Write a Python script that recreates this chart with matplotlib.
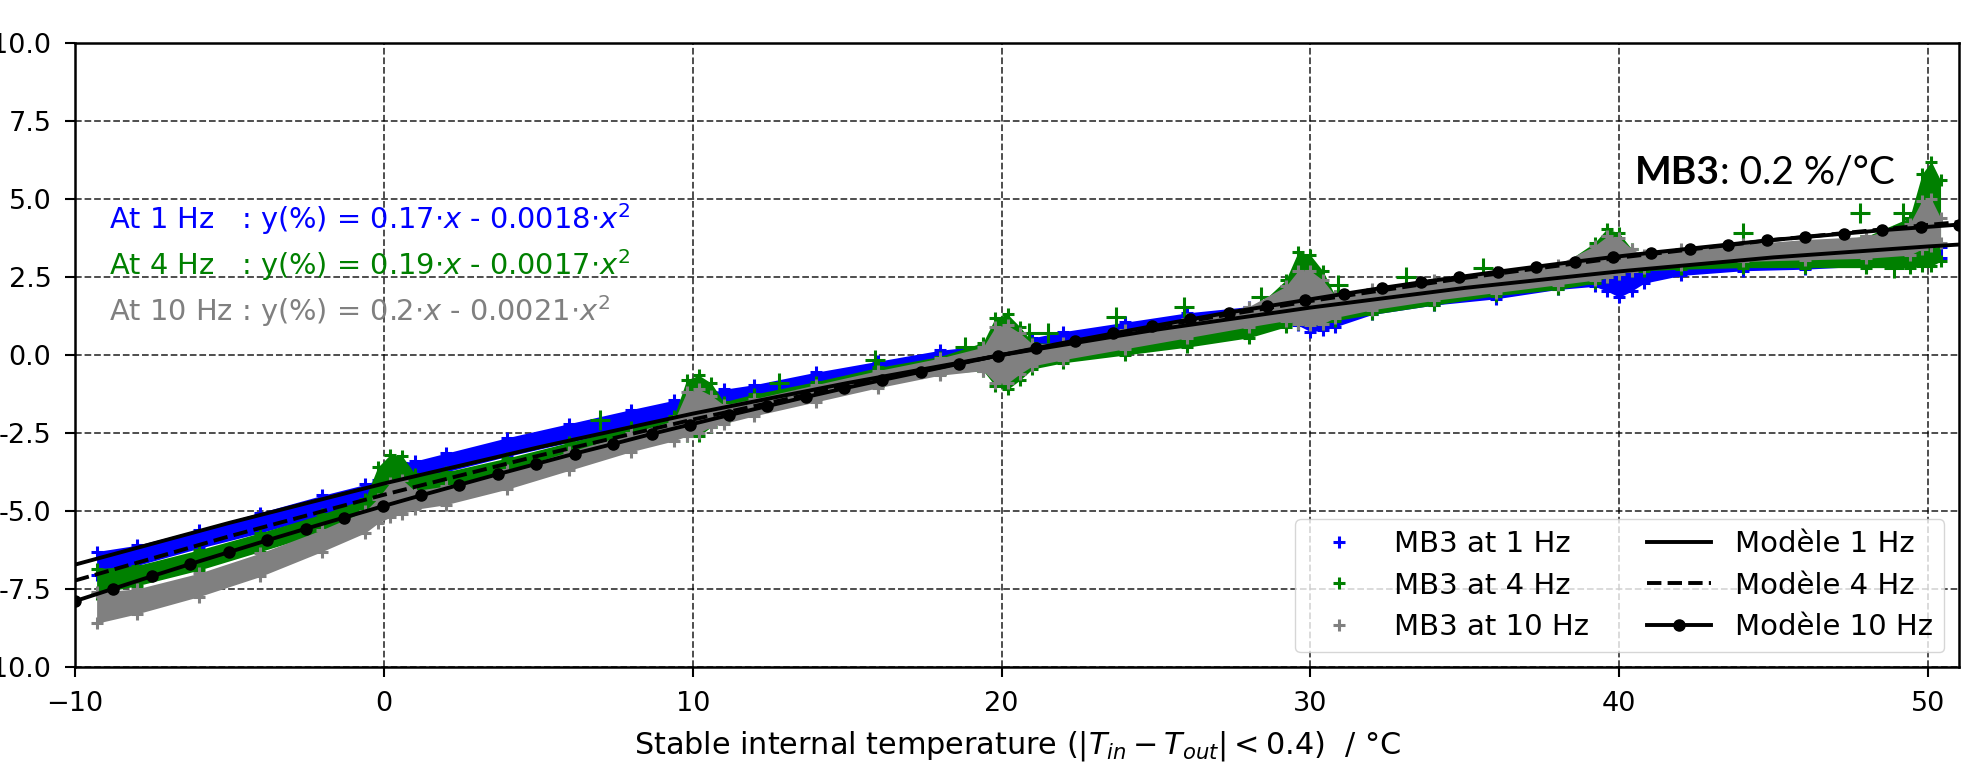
import numpy as np
import matplotlib
matplotlib.use("Agg")
from matplotlib import pyplot as plt

xs = [-9.3, -8, -6, -4, -2, -0.6, -0.2, 0.2, 0.6, 1.0, 2, 4, 6, 8, 9.4, 9.8, 10.2, 10.6, 11, 12,
      14, 16, 18, 19.4, 19.8, 20.2, 20.6, 21, 22, 24, 26, 28, 29.2, 29.6, 30.0, 30.4, 30.8, 32,
      34, 36, 38, 39.2, 39.6, 40.0, 40.4, 40.8, 42, 44, 46, 48, 49.4, 49.8, 50.1, 50.4]

lo_1hz = [-7.05, -6.75, -6.2, -5.7, -5.15, -4.8, -4.65, -4.3, -4.1, -4.0, -3.75, -3.25, -2.8, -2.35,
          -2.05, -2.0, -1.9, -1.8, -1.7, -1.5, -1.1, -0.75, -0.4, -0.2, -0.15, -0.1, 0.0, 0.05,
          0.25, 0.55, 0.85, 1.05, 1.1, 0.95, 0.75, 0.8, 0.9, 1.3, 1.6, 1.8, 2.1, 2.2, 2.05, 1.85,
          2.05, 2.3, 2.55, 2.7, 2.75, 2.85, 2.95, 3.0, 3.05, 3.1]
hi_1hz = [-6.3, -6.1, -5.6, -5.05, -4.5, -4.15, -4.0, -3.55, -3.45, -3.4, -3.15, -2.65, -2.2, -1.75,
          -1.45, -1.4, -1.3, -1.2, -1.1, -0.95, -0.55, -0.2, 0.15, 0.3, 0.35, 0.4, 0.5, 0.55,
          0.75, 1.05, 1.35, 1.55, 1.6, 1.6, 1.5, 1.5, 1.55, 1.85, 2.1, 2.3, 2.55, 2.65, 2.6, 2.6,
          2.7, 2.8, 3.0, 3.1, 3.15, 3.3, 3.35, 3.4, 3.45, 3.45]

lo_4hz = [-7.65, -7.4, -6.9, -6.3, -5.7, -5.2, -5.0, -4.7, -4.5, -4.4, -4.3, -3.85, -3.35, -2.85,
          -2.6, -2.6, -2.6, -2.3, -2.1, -1.85, -1.4, -1.0, -0.6, -0.5, -1.0, -1.1, -0.8, -0.45,
          -0.25, 0.0, 0.25, 0.55, 0.9, 1.0, 1.0, 1.0, 1.1, 1.3, 1.6, 1.9, 2.1, 2.3, 2.5, 2.6,
          2.7, 2.7, 2.75, 2.8, 2.8, 2.8, 2.8, 2.85, 2.85, 3.0]
hi_4hz = [-6.85, -6.75, -6.25, -5.7, -5.1, -4.6, -3.6, -3.2, -3.25, -3.8, -3.75, -3.3, -2.8, -2.3,
          -1.95, -0.8, -0.65, -0.9, -1.5, -1.25, -0.85, -0.4, -0.05, 0.4, 1.2, 1.3, 0.9, 0.4,
          0.35, 0.65, 0.95, 1.3, 2.4, 3.3, 3.2, 2.7, 1.9, 2.0, 2.3, 2.55, 2.8, 3.6, 4.05, 3.9,
          3.4, 3.1, 3.3, 3.5, 3.6, 3.8, 4.4, 5.8, 6.2, 5.6]

lo_10hz = [-8.6, -8.3, -7.75, -7.1, -6.3, -5.7, -5.4, -5.2, -5.1, -4.95, -4.8, -4.3, -3.7, -3.1,
           -2.75, -2.6, -2.5, -2.3, -2.2, -1.95, -1.5, -1.05, -0.65, -0.5, -0.9, -0.9, -0.6, -0.35,
           -0.15, 0.2, 0.55, 0.9, 1.1, 1.0, 0.95, 1.0, 1.2, 1.45, 1.75, 2.0, 2.25, 2.4, 2.5, 2.6,
           2.7, 2.8, 2.9, 3.0, 3.05, 3.1, 3.2, 3.4, 3.5, 3.6]
hi_10hz = [-7.6, -7.5, -7.0, -6.35, -5.6, -5.0, -4.6, -4.1, -4.0, -4.35, -4.2, -3.7, -3.1, -2.5,
           -2.1, -1.2, -1.1, -1.3, -1.6, -1.4, -0.95, -0.5, -0.1, 0.25, 0.9, 0.95, 0.7, 0.35,
           0.4, 0.8, 1.15, 1.55, 2.2, 2.7, 2.7, 2.4, 1.9, 2.1, 2.4, 2.65, 2.9, 3.5, 3.8, 3.75,
           3.4, 3.2, 3.4, 3.55, 3.7, 3.8, 4.2, 4.95, 5.0, 4.4]

# isolated 4 Hz points sitting away from the cloud
out_x_4hz = [7.0, 12.8, 15.9, 18.8, 20.9, 21.5, 23.7, 25.9, 28.4, 30.9, 33.1, 35.6, 44.0, 47.8, 48.9, 49.2]
out_y_4hz = [-2.08, -0.9, -0.16, 0.26, 0.7, 0.7, 1.22, 1.55, 1.86, 2.24, 2.5, 2.8, 3.9, 4.55, 2.8, 4.55]

# fitted models
line_x = [-10, -5, 0, 5, 10, 15, 20, 25, 30, 35, 40, 45, 50, 51]
model_1hz = [-6.72, -5.38, -4.12, -2.96, -1.88, -0.90, 0.0, 0.81, 1.52, 2.15, 2.68, 3.13, 3.48, 3.54]
model_4hz = [-7.23, -5.81, -4.48, -3.23, -2.07, -0.99, 0.0, 0.91, 1.73, 2.47, 3.12, 3.69, 4.17, 4.26]
model_10hz = [-7.89, -7.49, -7.09, -6.70, -6.32, -5.94, -5.57, -5.21, -4.85, -4.50,
              -4.16, -3.82, -3.49, -3.16, -2.85, -2.53, -2.23, -1.93, -1.64, -1.35,
              -1.07, -0.80, -0.54, -0.28, -0.02, 0.22, 0.46, 0.69, 0.92, 1.14,
              1.36, 1.56, 1.76, 1.96, 2.15, 2.33, 2.50, 2.67, 2.83, 2.99,
              3.14, 3.28, 3.41, 3.54, 3.67, 3.78, 3.89, 4.00, 4.09, 4.18]
model_10hz_x = np.linspace(-10, 51, len(model_10hz))

labels_data = ["MB3 at 1 Hz", "MB3 at 4 Hz", "MB3 at 10 Hz"]
labels_model = ["Modèle 1 Hz", "Modèle 4 Hz", "Modèle 10 Hz"]
colors = ["blue", "green", "gray"]
fit_texts = [
    r"At 1 Hz   : y(%) = 0.17$\cdot x$ - 0.0018$\cdot x^2$",
    r"At 4 Hz   : y(%) = 0.19$\cdot x$ - 0.0017$\cdot x^2$",
    r"At 10 Hz : y(%) = 0.2$\cdot x$ - 0.0021$\cdot x^2$",
]

fig = plt.figure(figsize=(19.63, 7.64), dpi=100)
ax = fig.add_axes([0.0382, 0.127, 0.998 - 0.0382, 0.9437 - 0.127])

handles = []
bands = [(lo_1hz, hi_1hz), (lo_4hz, hi_4hz), (lo_10hz, hi_10hz)]
for (lo, hi), c, lab in zip(bands, colors, labels_data):
    ax.fill_between(xs, lo, hi, color=c, lw=0, zorder=2)
    h, = ax.plot(xs, lo, "+", color=c, ms=9, mew=2.2, zorder=2, label=lab)
    ax.plot(xs, hi, "+", color=c, ms=9, mew=2.2, zorder=2)
    if c == "green":
        ax.plot(out_x_4hz, out_y_4hz, "+", color=c, ms=14, mew=2.2, zorder=2)
    handles.append(h)

m1, = ax.plot(line_x, model_1hz, "-", color="black", lw=2.8, zorder=3, label=labels_model[0])
m4, = ax.plot(line_x, model_4hz, "--", color="black", lw=2.8, zorder=3, label=labels_model[1])
m10, = ax.plot(model_10hz_x, model_10hz, "-o", color="black", lw=2.8, ms=8, zorder=3,
               label=labels_model[2])
handles += [m1, m4, m10]

for i, (t, c) in enumerate(zip(fit_texts, colors)):
    ax.text(-8.9, 4.36 - 1.474 * i, t, color=c, fontsize=20.8, va="center", ha="left")

t1 = ax.text(40.5, 5.85, "MB3", fontsize=28, fontweight="bold", family="Lato", va="center")
ax.annotate(": 0.2 %/°C", xy=(1.0, 0.5), xycoords=t1, fontsize=28, family="Lato",
            va="center", ha="left")

ax.set_xlim(-10, 51)
ax.set_ylim(-10, 10)
ax.set_yticks(np.arange(-10, 10.1, 2.5))
ax.yaxis.set_major_formatter(matplotlib.ticker.FormatStrFormatter("%.1f"))
ax.tick_params(labelsize=19.5, length=7, width=1.5, pad=10)
ax.set_axisbelow(True)
ax.grid(True, linestyle="--", color="black", alpha=0.75, lw=1.3)
for s in ax.spines.values():
    s.set_linewidth(1.8)
ax.set_xlabel(r"Stable internal temperature ($|T_{in} - T_{out}| < 0.4$)  / °C",
              fontsize=21.8, labelpad=9)

ax.legend(handles=handles, ncol=2, loc="lower right", fontsize=21, handlelength=2.2,
          columnspacing=2.0, labelspacing=0.45)

fig.savefig("out.png", dpi=100)
